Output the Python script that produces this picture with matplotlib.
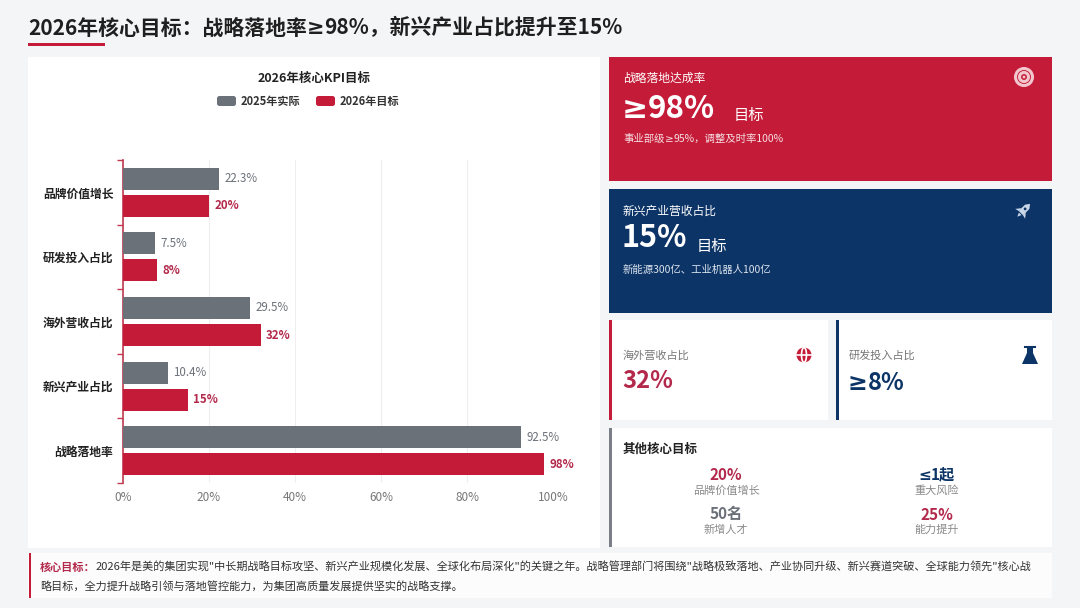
import matplotlib
matplotlib.use("Agg")
import matplotlib.pyplot as plt
from matplotlib.patches import Rectangle, Circle, Ellipse, Polygon, FancyBboxPatch
import numpy as np

plt.rcParams['font.family'] = ['Noto Sans CJK SC', 'DejaVu Sans']

# ---------------- data ----------------
categories = ['品牌价值增长', '研发投入占比', '海外营收占比', '新兴产业占比', '战略落地率']
actual_2025 = [22.3, 7.5, 29.5, 10.4, 92.5]
target_2026 = [20, 8, 32, 15, 98]
actual_labels = ['22.3%', '7.5%', '29.5%', '10.4%', '92.5%']
target_labels = ['20%', '8%', '32%', '15%', '98%']
x_ticks = [0, 20, 40, 60, 80, 100]
x_tick_labels = ['0%', '20%', '40%', '60%', '80%', '100%']
series_names = ['2025年实际', '2026年目标']

other_values = ['20%', '≤1起', '50名', '25%']
other_labels = ['品牌价值增长', '重大风险', '新增人才', '能力提升']

# ---------------- colors ----------------
BG = '#f4f5f7'
RED = '#c41c38'
RED_TXT = '#b3294b'
NAVY = '#0c3466'
GRAY = '#6b7179'
DARK = '#222222'
MID = '#777777'

W, H = 1080, 608
fig = plt.figure(figsize=(W / 100, H / 100), dpi=100, facecolor=BG)

# pixel-coordinate overlay (background layer)
bg = fig.add_axes([0, 0, 1, 1], zorder=0)
bg.set_xlim(0, W)
bg.set_ylim(H, 0)
bg.axis('off')
bg.set_facecolor(BG)
fig.canvas.draw()
renderer = fig.canvas.get_renderer()
inv = bg.transData.inverted()


def rect(x0, y0, x1, y1, color, **kw):
    bg.add_patch(Rectangle((x0, y0), x1 - x0, y1 - y0, facecolor=color, edgecolor='none', **kw))


def txt(x, y, s, size, color, weight='normal', ha='left', va='center', **kw):
    return bg.text(x, y, s, fontsize=size, color=color, fontweight=weight, ha=ha, va=va, **kw)


MATH = ['DejaVu Sans']
CJK = ['Noto Sans CJK SC', 'DejaVu Sans']


def seq_text(x, y, s, size, color, weight='normal', ha='left'):
    """Draw text with the comparison signs taken from DejaVu Sans."""
    segs = []
    buf = ''
    for ch in s:
        if ch in '≥≤':
            if buf:
                segs.append((buf, CJK))
                buf = ''
            segs.append((ch, MATH))
        else:
            buf += ch
    if buf:
        segs.append((buf, CJK))
    arts = []
    for seg, fam in segs:
        t = bg.text(0, y, seg, fontsize=size, color=color, fontweight=weight, family=fam,
                    ha='left', va='baseline')
        arts.append(t)
    widths = [t.get_window_extent(renderer=renderer).width for t in arts]
    total = sum(widths)
    cur = x if ha == 'left' else x - total / 2
    for t, w in zip(arts, widths):
        t.set_x(cur)
        cur += w
    return arts


def baseline(yc, size):
    # approximate baseline for a visual center yc (pixels)
    return yc + size * 100 / 72 * 0.36


# title
seq_text(28, baseline(27, 15), '2026年核心目标：战略落地率≥98%，新兴产业占比提升至15%', 15, '#1f1f1f', weight='bold')
rect(28, 42.5, 105, 45.5, RED)

# left panel
rect(28, 57, 600, 548, 'white')
txt(314, 78, '2026年核心KPI目标', 9, DARK, weight='bold', ha='center')
# legend
bg.add_patch(FancyBboxPatch((217, 96), 19, 10, boxstyle='round,pad=0,rounding_size=2.5',
                            facecolor=GRAY, edgecolor='none'))
txt(241, 101, series_names[0], 8, '#333333', weight='bold')
bg.add_patch(FancyBboxPatch((316, 96), 19, 10, boxstyle='round,pad=0,rounding_size=2.5',
                            facecolor=RED, edgecolor='none'))
txt(340, 101, series_names[1], 8, '#333333', weight='bold')

# red card
rect(609, 57, 1052, 181, RED)
txt(623, 78, '战略落地达成率', 8.5, 'white')
seq_text(622, 118, '≥98%', 22.5, 'white', weight='bold')
txt(734, 115, '目标', 11, 'white')
seq_text(623, 142, '事业部级≥95%，调整及时率100%', 7.5, '#f6dfe3')
for r, lw in [(8.5, 2.2), (4.5, 2.2)]:
    bg.add_patch(Circle((1024, 77), r, facecolor='none', edgecolor='#f3c6cd', linewidth=lw))
bg.add_patch(Circle((1024, 77), 1.4, facecolor='#f3c6cd', edgecolor='none'))

# navy card
rect(609, 189, 1052, 313, NAVY)
txt(623, 211, '新兴产业营收占比', 8.5, 'white')
txt(622, 238, '15%', 22, 'white', weight='bold')
txt(697, 246, '目标', 11, 'white')
txt(623, 270, '新能源300亿、工业机器人100亿', 7.5, '#dde5f0')


# rocket icon (local coordinates, nose up, rotated to point up-right)
def rocket_pts(pts, cx, cy, ang=45):
    a = np.deg2rad(ang)
    out = []
    for lx, ly in pts:
        rx = lx * np.cos(a) + ly * np.sin(a)
        ry = -lx * np.sin(a) + ly * np.cos(a)
        out.append((cx + rx, cy - ry))
    return out


rc = '#c9d7ea'
cxr, cyr = 1023, 211
body = [(0, 10), (3, 6), (3.2, -3), (-3.2, -3), (-3, 6)]
fin_l = [(-3, 1), (-7, -4), (-3, -3)]
fin_r = [(3, 1), (7, -4), (3, -3)]
flame = [(-1.8, -4), (1.8, -4), (0, -8)]
for p in [body, fin_l, fin_r, flame]:
    bg.add_patch(Polygon(rocket_pts(p, cxr, cyr), closed=True, facecolor=rc, edgecolor='none'))
wx, wy = rocket_pts([(0, 3)], cxr, cyr)[0]
bg.add_patch(Circle((wx, wy), 1.4, facecolor=NAVY, edgecolor='none'))

# small cards
rect(609, 320, 828, 420, 'white')
rect(609, 320, 612, 420, RED)
txt(623, 356, '海外营收占比', 8, MID)
txt(622, 381, '32%', 17, RED_TXT, weight='bold')
bg.add_patch(Circle((804, 355), 7.5, facecolor=RED, edgecolor='none'))
bg.add_patch(Ellipse((804, 355), 5, 15, facecolor='none', edgecolor='white', linewidth=1.2))
bg.plot([796.5, 811.5], [355, 355], color='white', lw=1.2)

rect(836, 320, 1052, 420, 'white')
rect(836, 320, 839, 420, NAVY)
txt(849, 356, '研发投入占比', 8, MID)
seq_text(848, 390, '≥8%', 17, NAVY, weight='bold')
bg.add_patch(Polygon([(1027, 347), (1033, 347), (1033, 353), (1038, 364), (1022, 364), (1027, 353)],
                     closed=True, facecolor=NAVY, edgecolor='none'))
bg.plot([1025, 1035], [347, 347], color=NAVY, lw=1.5)

# other goals card
rect(609, 428, 1052, 547, 'white')
rect(609, 428, 612, 547, '#7a7f87')
txt(623, 449, '其他核心目标', 9, DARK, weight='bold')
col_x = [726, 937]
row_y = [(474, 491), (514, 530)]
val_colors = [RED_TXT, NAVY, GRAY, RED_TXT]
for i, (v, lab) in enumerate(zip(other_values, other_labels)):
    cx = col_x[i % 2]
    vy, ly = row_y[i // 2]
    seq_text(cx, baseline(vy, 11), v, 11, val_colors[i], weight='bold', ha='center')
    txt(cx, ly, lab, 8, '#8a8a8a', ha='center')

# footer
rect(28, 553, 1052, 598, '#fcfcfd')
rect(29, 553, 31, 598, RED)
FS = 8.0
t1 = txt(40, 567, '核心目标：', FS, RED_TXT, weight='bold')
ext = t1.get_window_extent(renderer=renderer)
x_end = inv.transform((ext.x1, ext.y0))[0]
txt(x_end, 567, '2026年是美的集团实现"中长期战略目标攻坚、新兴产业规模化发展、全球化布局深化"的关键之年。'
    '战略管理部门将围绕"战略极致落地、产业协同升级、新兴赛道突破、全球能力领先"核心战', FS, '#333333')
txt(40, 586, '略目标，全力提升战略引领与落地管控能力，为集团高质量发展提供坚实的战略支撑。', FS, '#333333')

# ---------------- bar chart ----------------
x0p, x1p, y0p, y1p = 123, 553, 160, 483
ax = fig.add_axes([x0p / W, 1 - y1p / H, (x1p - x0p) / W, (y1p - y0p) / H], zorder=1)
ax.set_facecolor('none')
n = len(categories)
ypos = np.arange(n)
bh = 0.34
off = 0.21
ax.barh(ypos - off, actual_2025, height=bh, color=GRAY, zorder=3)
ax.barh(ypos + off, target_2026, height=bh, color=RED, zorder=3)
for y, v, lab in zip(ypos, actual_2025, actual_labels):
    ax.annotate(lab, (v, y - off), xytext=(4, 0), textcoords='offset points', va='center', ha='left',
                fontsize=8.3, color=GRAY)
for y, v, lab in zip(ypos, target_2026, target_labels):
    ax.annotate(lab, (v, y + off), xytext=(4, 0), textcoords='offset points', va='center', ha='left',
                fontsize=8.3, color=RED_TXT, fontweight='bold')
ax.set_ylim(n - 0.5, -0.5)
ax.set_xlim(0, 100)
ax.set_yticks(ypos)
ax.set_yticklabels(categories, fontsize=8.5, fontweight='bold', color=DARK)
ax.set_yticks(np.arange(n + 1) - 0.5, minor=True)
ax.tick_params(axis='y', which='major', length=0, pad=7)
ax.tick_params(axis='y', which='minor', length=4, color='#c0394f', width=1)
ax.set_xticks(x_ticks)
ax.set_xticklabels(x_tick_labels, fontsize=8.5, color=MID)
ax.tick_params(axis='x', length=0, pad=6)
ax.grid(axis='x', color='#eeeeee', linewidth=0.8, zorder=0)
for s in ['top', 'right', 'bottom']:
    ax.spines[s].set_visible(False)
ax.spines['left'].set_color('#c0394f')
ax.spines['left'].set_linewidth(1.2)

fig.savefig('out.png', dpi=100, facecolor=BG)
